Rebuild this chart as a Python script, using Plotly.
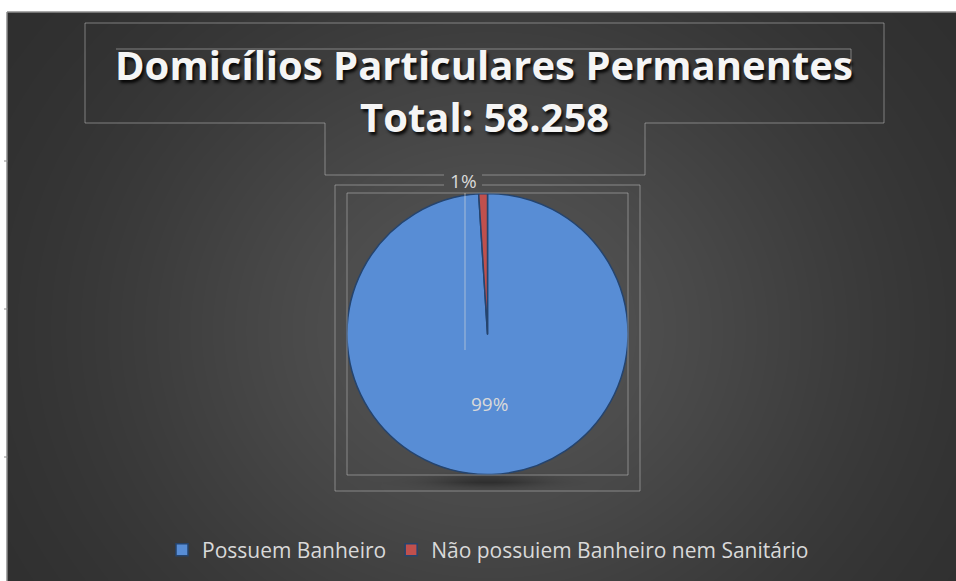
import numpy as np
import plotly.graph_objects as go

# ---- data ----
categories = ["Possuem Banheiro", "Não possuiem Banheiro nem Sanitário"]
shares = [99, 1]
slice_colors = ["#588dd5", "#c0504d"]
title_line1 = "Domicílios Particulares Permanentes"
title_line2 = "Total: 58.258"

W, H = 956, 581
def px(x):
    return x / W
def py(y):
    return 1 - y / H

fig = go.Figure()

# ---- background radial gradient + soft pie shadow (styling only) ----
nx, ny = 120, 116
gx = np.linspace(7, W, nx)
gy = np.linspace(12, H, ny)
XX, YY = np.meshgrid(gx, gy)
val = 43 + 40 * np.exp(-(((XX - 490) / 380) ** 2 + ((YY - 330) / 340) ** 2))
val = val - 30 * np.exp(-(((XX - 488) / 55) ** 2 + ((YY - 481) / 6) ** 2))
fig.add_trace(go.Heatmap(
    x=gx, y=gy, z=val, zmin=0, zmax=255,
    colorscale=[[0, "rgb(0,0,0)"], [1, "rgb(255,255,255)"]],
    showscale=False, hoverinfo="skip", zsmooth="best",
))

# ---- pie ----
fig.add_trace(go.Pie(
    labels=categories,
    values=shares,
    sort=False,
    direction="clockwise",
    rotation=0,
    marker=dict(colors=slice_colors, line=dict(color="#25446e", width=1.5)),
    texttemplate="%{percent:.0%}",
    textposition=["inside", "outside"],
    insidetextorientation="horizontal",
    textfont=dict(family="Open Sans", size=19, color="#d9d9d9"),
    domain=dict(x=[px(347), px(628)], y=[py(475), py(193)]),
    hoverinfo="label+percent",
    showlegend=True,
))

line_col = "rgba(190,190,190,0.55)"
shapes = []
def seg(x0, y0, x1, y1, col=line_col, w=1):
    shapes.append(dict(type="line", xref="paper", yref="paper",
                       x0=px(x0), y0=py(y0), x1=px(x1), y1=py(y1),
                       line=dict(color=col, width=w), layer="above"))

# border of the dark area
seg(7, 12, W, 12, "#8c8c8c", 1.5)
seg(7, 12, 7, H, "#8c8c8c", 1.5)
for ty in [161, 309, 457]:
    seg(4, ty, 8, ty, "#8c8c8c", 1)

# title box with notch
seg(85, 23, 884, 23)
seg(884, 23, 884, 123)
seg(884, 123, 645, 123)
seg(645, 123, 645, 175)
seg(645, 175, 482, 175)
seg(444, 175, 325, 175)
seg(325, 175, 325, 123)
seg(325, 123, 85, 123)
seg(85, 123, 85, 23)
# inner title line
seg(116, 49, 851, 49)
seg(851, 49, 851, 78)

# plot area boxes
seg(335, 185, 444, 185)
seg(482, 185, 640, 185)
seg(640, 185, 640, 491)
seg(640, 491, 335, 491)
seg(335, 491, 335, 185)
seg(347, 193, 628, 193)
seg(628, 193, 628, 475)
seg(628, 475, 347, 475)
seg(347, 475, 347, 193)
seg(465, 193, 465, 350, "rgba(220,220,220,0.6)")

title_font = dict(family="Open Sans", size=40, color="#f5f5f5", weight=700,
                  shadow="2px 3px 3px rgba(0,0,0,0.85)")
annotations = [
    dict(text=title_line1, x=px(484), y=py(65), xref="paper", yref="paper",
         xanchor="center", yanchor="middle", showarrow=False, font=title_font),
    dict(text=title_line2, x=px(484), y=py(117), xref="paper", yref="paper",
         xanchor="center", yanchor="middle", showarrow=False, font=title_font),
]

fig.update_layout(
    width=W, height=H,
    margin=dict(l=0, r=0, t=0, b=0),
    paper_bgcolor="white",
    plot_bgcolor="rgba(0,0,0,0)",
    xaxis=dict(domain=[px(7), 1], range=[7, W], visible=False, fixedrange=True),
    yaxis=dict(domain=[0, py(12)], range=[H, 12], visible=False, fixedrange=True),
    legend=dict(
        orientation="h",
        x=px(162), xanchor="left",
        y=py(550), yanchor="middle",
        font=dict(family="Open Sans", size=21, color="#d9d9d9"),
        bgcolor="rgba(0,0,0,0)",
        itemwidth=30,
        traceorder="normal",
    ),
    annotations=annotations,
    shapes=shapes,
)

fig.write_html("out.html")
